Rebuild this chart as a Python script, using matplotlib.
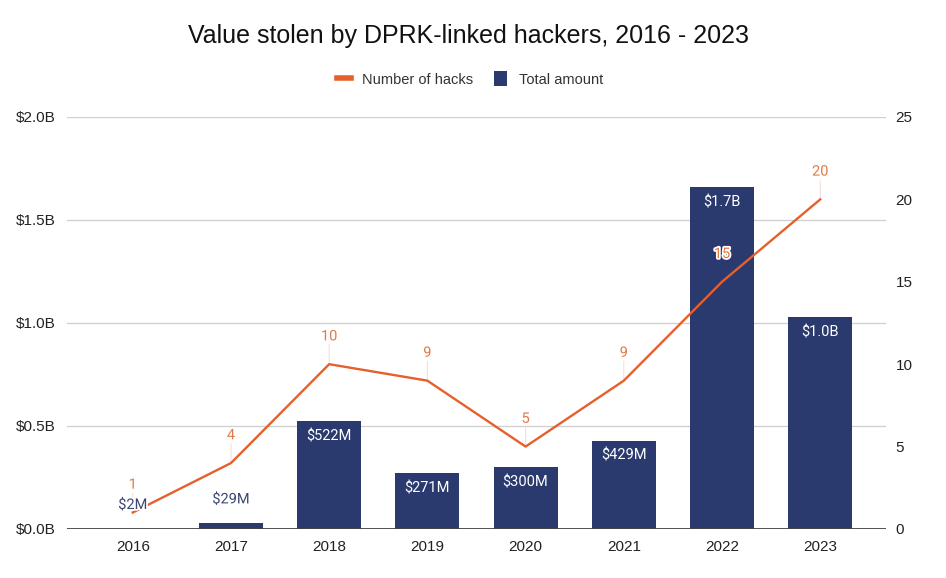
import matplotlib
matplotlib.use("Agg")
import matplotlib.pyplot as plt
import matplotlib.patheffects as pe
from matplotlib.lines import Line2D
from matplotlib.patches import Patch

# ----------------------------------------
# DATA
# ----------------------------------------
years = ["2016", "2017", "2018", "2019", "2020", "2021", "2022", "2023"]
amount_bn = [0.002, 0.029, 0.522, 0.271, 0.300, 0.429, 1.66, 1.03]   # total amount, $B
num_hacks = [1, 4, 10, 9, 5, 9, 15, 20]

left_ticks = [0.0, 0.5, 1.0, 1.5, 2.0]
right_ticks = [0, 5, 10, 15, 20, 25]

NAVY = "#2b3a6e"
ORANGE = "#e5602c"
LABEL_ORANGE = "#e07a45"

plt.rcParams["font.family"] = ["Liberation Sans", "DejaVu Sans"]


def fmt_amount(v):
    if v >= 1:
        return f"${v:.1f}B"
    return f"${v * 1000:.0f}M"


fig = plt.figure(figsize=(9.46, 5.78), dpi=100)
ax = fig.add_axes([0.0708, 0.0848, 0.8658, 0.7128])
ax2 = ax.twinx()

x = list(range(len(years)))

# bars
ax.bar(x, amount_bn, width=0.65, color=NAVY, zorder=2)
ax.set_ylim(0, 2.0)
ax.set_xlim(-0.67, 7.67)
ax.set_yticks(left_ticks)
ax.set_yticklabels([f"${t:.1f}B" for t in left_ticks])
ax.grid(axis="y", color="#cfcfcf", linewidth=0.9, zorder=0)
ax.set_axisbelow(True)
ax.set_xticks(x)
ax.set_xticklabels(years)
ax.tick_params(axis="both", length=0, labelsize=11, colors="#222222", pad=8)
ax.tick_params(axis="x", pad=8)
for s in ax.spines.values():
    s.set_visible(False)
ax.axhline(0, color="#444444", linewidth=1.3, zorder=3)

# faint leader lines, kept behind the bars
for xi, n in zip(x, num_hacks):
    ax.annotate("", (xi, n), xycoords=ax2.transData, xytext=(0, 14),
                textcoords="offset points",
                arrowprops=dict(arrowstyle="-", color="#f3e0d6", lw=0.8,
                                shrinkA=0, shrinkB=0), zorder=1)

# line on the right axis
ax2.plot(x, num_hacks, color=ORANGE, linewidth=1.7, zorder=4)
ax2.set_ylim(0, 25)
ax2.set_yticks(right_ticks)
ax2.tick_params(axis="y", length=0, labelsize=11, colors="#222222", pad=7)
for s in ax2.spines.values():
    s.set_visible(False)

halo = [pe.withStroke(linewidth=2.5, foreground="white")]

# line labels
for xi, n in zip(x, num_hacks):
    ax2.annotate(str(n), (xi, n), xytext=(0, 20), textcoords="offset points",
                 ha="center", va="center", fontsize=10.5, color=LABEL_ORANGE,
                 family="Roboto", path_effects=halo, zorder=6)

# bar labels (inside top, or above for tiny bars)
for xi, v in zip(x, amount_bn):
    if v > 0.1:
        ax2.annotate(fmt_amount(v), (xi, v), xycoords=ax.transData,
                     xytext=(0, -11), textcoords="offset points",
                     ha="center", va="center", fontsize=10.5, color="white",
                     family="Roboto", zorder=7)
    else:
        ax2.annotate(fmt_amount(v), (xi, v), xycoords=ax.transData,
                     xytext=(0, 17), textcoords="offset points",
                     ha="center", va="center", fontsize=10.5, color="#3c4670",
                     family="Roboto", path_effects=halo, zorder=7)

fig.suptitle("Value stolen by DPRK-linked hackers, 2016 - 2023",
             x=0.495, y=0.937, va="center", fontsize=18, color="#111111")

handles = [Line2D([0], [0], color=ORANGE, linewidth=4),
           Patch(facecolor=NAVY)]
fig.legend(handles, ["Number of hacks", "Total amount"], loc="center",
           bbox_to_anchor=(0.497, 0.863), ncol=2, frameon=False, fontsize=10.5,
           handlelength=0.9, handleheight=1.2, columnspacing=1.4,
           handletextpad=0.8, labelcolor="#333333")

fig.savefig("out.png", dpi=100)
